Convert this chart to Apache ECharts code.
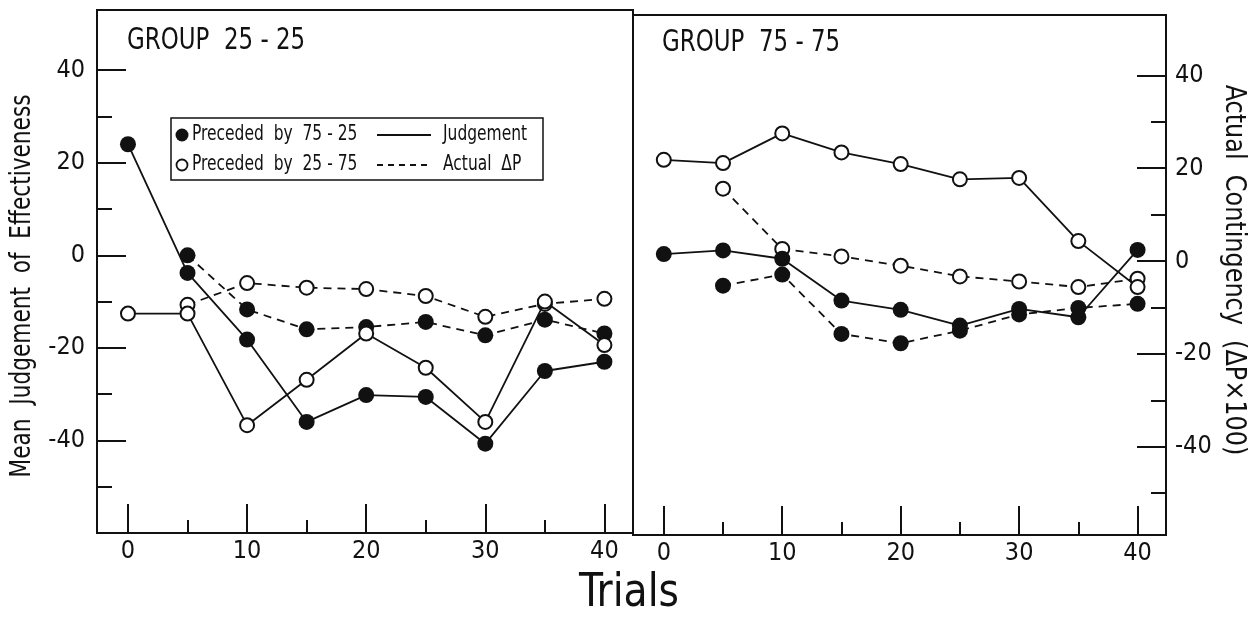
<!DOCTYPE html>
<html>
<head>
<meta charset="utf-8">
<script src="https://cdn.jsdelivr.net/npm/echarts@6/dist/echarts.min.js"></script>
<style>
  html, body { margin: 0; padding: 0; background: #fff; }
  #main { width: 1252px; height: 624px; }
</style>
</head>
<body>
<div id="main"></div>
<script>
// trial blocks on the x axis
var trials = [0, 5, 10, 15, 20, 25, 30, 35, 40];

// GROUP 25-25 (left panel)
var g25JudgeFilled = [24, -3.8, -18.2, -36, -30.2, -30.6, -40.7, -25, -23];
var g25JudgeOpen   = [-12.6, -12.6, -36.7, -26.9, -16.9, -24.3, -36, -10, -19.4];
var g25DeltaFilled = [null, 0, -11.7, -16, -15.5, -14.4, -17.3, -13.9, -16.9];
var g25DeltaOpen   = [null, -10.7, -6, -7, -7.3, -8.8, -13.3, -10.5, -9.4];

// GROUP 75-75 (right panel)
var g75JudgeFilled = [1.5, 2.3, 0.5, -8.5, -10.5, -13.9, -10.3, -12.1, 2.4];
var g75JudgeOpen   = [21.8, 21.1, 27.5, 23.4, 20.9, 17.6, 17.9, 4.3, -5.6];
var g75DeltaFilled = [null, -5.3, -2.9, -15.7, -17.7, -15, -11.5, -10.1, -9.2];
var g75DeltaOpen   = [null, 15.6, 2.6, 1.0, -1.0, -3.3, -4.4, -5.6, -3.8];

// tick values
var yMajor = [40, 20, 0, -20, -40];
var yMinor = [30, 10, -10, -30, -50];
var xMajor = [0, 10, 20, 30, 40];
var xMinor = [5, 15, 25, 35];

var FONT = "'DejaVu Sans Condensed', 'DejaVu Sans', sans-serif";
var INK = '#111';

function pairs(values) {
  var out = [];
  values.forEach(function (v, i) {
    if (v !== null) out.push([trials[i], v]);
  });
  return out;
}

// x axes: a labelled one with long ticks + one with short ticks
function xAxesFor(grid) {
  var base = {
    type: 'value', gridIndex: grid, position: 'bottom',
    min: -2.6, max: 42.4,
    axisLine: { show: false, onZero: false },
    splitLine: { show: false }
  };
  return [
    Object.assign({}, base, {
      axisTick: { inside: true, length: 29, customValues: xMajor, lineStyle: { color: INK, width: 2 } },
      axisLabel: { customValues: xMajor, margin: 6, color: INK, fontFamily: FONT, fontSize: 25 }
    }),
    Object.assign({}, base, {
      axisTick: { inside: true, length: 13, customValues: xMinor, lineStyle: { color: INK, width: 2 } },
      axisLabel: { show: false }
    })
  ];
}

function yAxesFor(grid, pos, min, max, margin) {
  var base = {
    type: 'value', gridIndex: grid, position: pos,
    min: min, max: max,
    axisLine: { show: false, onZero: false },
    splitLine: { show: false }
  };
  return [
    Object.assign({}, base, {
      axisTick: { inside: true, length: 29, customValues: yMajor, lineStyle: { color: INK, width: 2 } },
      axisLabel: { customValues: yMajor, margin: margin, color: INK, fontFamily: FONT, fontSize: 25 }
    }),
    Object.assign({}, base, {
      axisTick: { inside: true, length: 15, customValues: yMinor, lineStyle: { color: INK, width: 2 } },
      axisLabel: { show: false }
    })
  ];
}

function lineSeries(name, grid, values, filled, dashed) {
  return {
    name: name, type: 'line',
    xAxisIndex: grid * 2, yAxisIndex: grid * 2,
    data: pairs(values),
    symbol: 'circle',
    symbolSize: filled ? 16 : 14,
    itemStyle: { color: filled ? INK : '#fff', borderColor: INK, borderWidth: filled ? 0 : 2 },
    lineStyle: { color: INK, width: 1.8, type: dashed ? [8, 6] : 'solid' },
    z: dashed ? 2 : 3,
    silent: true
  };
}

// narrow lettering: condensed font squeezed a bit more along the baseline
function txt(x, y, s, size, sx, extra) {
  return Object.assign({
    type: 'text', x: x, y: y, scaleX: sx, z: 100,
    style: { text: s, fill: INK, font: size + 'px ' + FONT, verticalAlign: 'middle' }
  }, extra || {});
}

var chart = echarts.init(document.getElementById('main'));

var option = {
  animation: false,
  backgroundColor: '#fff',
  grid: [
    { left: 97, top: 10, width: 536, height: 523, show: true, borderColor: INK, borderWidth: 2, containLabel: false },
    { left: 633, top: 15, width: 533, height: 520, show: true, borderColor: INK, borderWidth: 2, containLabel: false }
  ],
  xAxis: xAxesFor(0).concat(xAxesFor(1)),
  yAxis: yAxesFor(0, 'left', -60, 53, 12).concat(yAxesFor(1, 'right', -59, 53, 9)),
  series: [
    lineSeries('25-25 judgement, preceded by 75-25', 0, g25JudgeFilled, true, false),
    lineSeries('25-25 judgement, preceded by 25-75', 0, g25JudgeOpen, false, false),
    lineSeries('25-25 actual dP, preceded by 75-25', 0, g25DeltaFilled, true, true),
    lineSeries('25-25 actual dP, preceded by 25-75', 0, g25DeltaOpen, false, true),
    lineSeries('75-75 judgement, preceded by 75-25', 1, g75JudgeFilled, true, false),
    lineSeries('75-75 judgement, preceded by 25-75', 1, g75JudgeOpen, false, false),
    lineSeries('75-75 actual dP, preceded by 75-25', 1, g75DeltaFilled, true, true),
    lineSeries('75-75 actual dP, preceded by 25-75', 1, g75DeltaOpen, false, true)
  ],
  graphic: [
    // panel titles and x-axis title
    txt(127, 41, 'GROUP  25 - 25', 30, 0.85),
    txt(662, 43, 'GROUP  75 - 75', 30, 0.85),
    txt(629, 594, 'Trials', 46, 0.95, { style: { text: 'Trials', fill: INK, font: '46px ' + FONT, align: 'center', verticalAlign: 'middle' } }),
    // axis names
    txt(23, 286, 'Mean  Judgement  of  Effectiveness', 28, 0.86, {
      rotation: Math.PI / 2,
      style: { text: 'Mean  Judgement  of  Effectiveness', fill: INK, font: '28px ' + FONT, align: 'center', verticalAlign: 'middle' }
    }),
    txt(1233, 270, 'Actual  Contingency  (\u0394P\u00d7100)', 28, 0.95, {
      rotation: -Math.PI / 2,
      style: { text: 'Actual  Contingency  (\u0394P\u00d7100)', fill: INK, font: '28px ' + FONT, align: 'center', verticalAlign: 'middle' }
    }),
    // legend box
    { type: 'rect', z: 90, shape: { x: 171, y: 118, width: 372, height: 62 },
      style: { fill: '#fff', stroke: INK, lineWidth: 1.5 } },
    { type: 'circle', z: 100, shape: { cx: 182, cy: 135, r: 6.5 }, style: { fill: INK } },
    txt(192, 135, 'Preceded  by  75 - 25', 21, 0.82),
    { type: 'line', z: 100, shape: { x1: 377, y1: 135, x2: 431, y2: 135 }, style: { stroke: INK, lineWidth: 1.8 } },
    txt(443, 135, 'Judgement', 21, 0.82),
    { type: 'circle', z: 100, shape: { cx: 182, cy: 165, r: 5.5 }, style: { fill: '#fff', stroke: INK, lineWidth: 1.8 } },
    txt(192, 165, 'Preceded  by  25 - 75', 21, 0.82),
    { type: 'line', z: 100, shape: { x1: 377, y1: 165, x2: 431, y2: 165 }, style: { stroke: INK, lineWidth: 1.8, lineDash: [6, 5] } },
    txt(443, 165, 'Actual  \u0394P', 21, 0.82)
  ]
};

chart.setOption(option);
</script>
</body>
</html>
